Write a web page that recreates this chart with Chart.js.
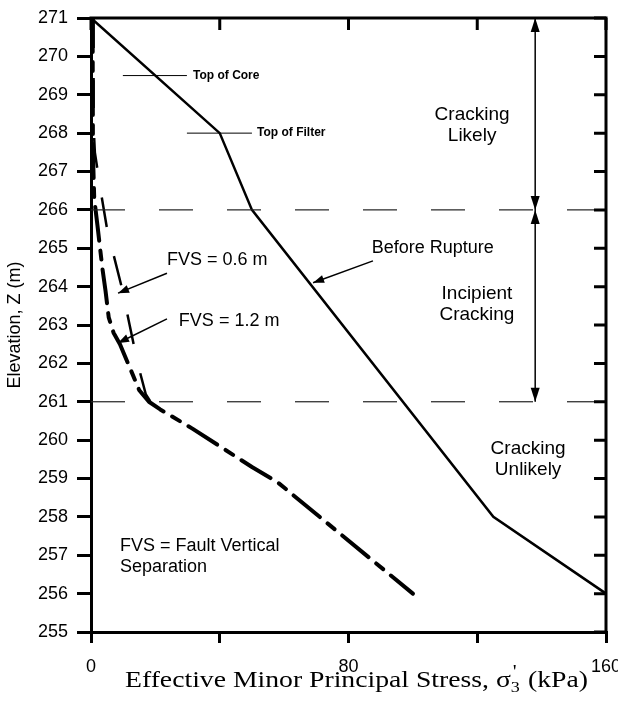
<!DOCTYPE html>
<html>
<head>
<meta charset="utf-8">
<script src="https://cdn.jsdelivr.net/npm/chart.js@4.4.0/dist/chart.umd.min.js"></script>
<style>
  html, body { margin: 0; padding: 0; background: #fff; }
  #wrap { width: 618px; height: 710px; position: relative; }
</style>
</head>
<body>
<div id="wrap"><canvas id="stressChart"></canvas></div>
<script>
// stress axis (kPa)
const stressTicks = [0, 40, 80, 120, 160];
const stressLabels = [0, 80, 160];
// elevation axis (m)
const elevationTicks = [255, 256, 257, 258, 259, 260, 261, 262, 263, 264, 265, 266, 267, 268, 269, 270, 271];

// before rupture
const beforeStress = [0, 40, 50, 125, 160];
const beforeElev = [271, 268, 266, 258, 256];

// FVS = 0.6 m
const fvs06Stress = [0.8, 0.8, 1.2, 3, 5, 9.5, 12, 14.5, 17, 18.5];
const fvs06Elev = [271, 268.2, 267.5, 266.5, 265.5, 264, 263, 262, 261.2, 261];

// FVS = 1.2 m
const fvs12Stress = [0.5, 0.6, 1, 2, 3.5, 4.5, 5.5, 7, 9, 12, 15, 18, 21.5, 31.5, 50, 58, 100];
const fvs12Elev = [271, 267.5, 266.3, 265.6, 264.5, 263.9, 263.2, 262.8, 262.5, 261.9, 261.3, 261.0, 260.8, 260.3, 259.3, 258.9, 256];

// cracking zone boundaries
const zoneBounds = [266, 261];
const zoneRange = [0, 160];

function toPoints(xs, ys) {
    return xs.map((v, i) => ({ x: v, y: ys[i] }));
}

const FONT = "'Liberation Sans', Arial, sans-serif";

// annotations, in data units
const labels = [
    { x: 31.7, y: 269.5, lines: ['Top of Core'], font: 'bold 12px ' + FONT, align: 'left' },
    { x: 51.6, y: 268, lines: ['Top of Filter'], font: 'bold 12px ' + FONT, align: 'left' },
    { x: 118.4, y: 268.2, lines: ['Cracking', 'Likely'], font: '19px ' + FONT, align: 'center' },
    { x: 106.2, y: 265.0, lines: ['Before Rupture'], font: '18px ' + FONT, align: 'center' },
    { x: 119.9, y: 263.55, lines: ['Incipient', 'Cracking'], font: '19px ' + FONT, align: 'center' },
    { x: 135.8, y: 259.5, lines: ['Cracking', 'Unlikely'], font: '19px ' + FONT, align: 'center' },
    { x: 23.6, y: 264.7, lines: ['FVS = 0.6 m'], font: '18px ' + FONT, align: 'left' },
    { x: 27.3, y: 263.1, lines: ['FVS = 1.2 m'], font: '18px ' + FONT, align: 'left' },
    { x: 9.0, y: 256.97, lines: ['FVS = Fault Vertical', 'Separation'], font: '18px ' + FONT, align: 'left' }
];
const leaders = [
    [9.9, 269.5, 29.8, 269.5],
    [29.8, 268, 50, 268]
];
const pointers = [
    [87.6, 264.67, 69, 264.1],
    [23.6, 264.35, 8.4, 263.83],
    [23.6, 263.16, 8.4, 262.53]
];
const zoneArrowX = 138;

function arrowHead(ctx, x1, y1, x2, y2, len, half) {
    const ang = Math.atan2(y2 - y1, x2 - x1);
    ctx.beginPath();
    ctx.moveTo(x2, y2);
    ctx.lineTo(x2 - len * Math.cos(ang) + half * Math.sin(ang), y2 - len * Math.sin(ang) - half * Math.cos(ang));
    ctx.lineTo(x2 - len * Math.cos(ang) - half * Math.sin(ang), y2 - len * Math.sin(ang) + half * Math.cos(ang));
    ctx.closePath();
    ctx.fill();
}

const overlay = {
    id: 'overlay',
    afterDraw(chart) {
        const { ctx, chartArea: a, scales: { x, y } } = chart;
        ctx.save();
        ctx.strokeStyle = '#000';
        ctx.fillStyle = '#000';

        // frame top and right, with inward ticks
        ctx.lineWidth = 3;
        ctx.beginPath();
        ctx.moveTo(a.left - 1.5, a.top);
        ctx.lineTo(a.right, a.top);
        ctx.lineTo(a.right, a.bottom + 1.5);
        ctx.stroke();
        ctx.beginPath();
        stressTicks.forEach(v => {
            const px = x.getPixelForValue(v);
            ctx.moveTo(px, a.top);
            ctx.lineTo(px, a.top + 12);
        });
        elevationTicks.forEach(v => {
            const py = y.getPixelForValue(v);
            ctx.moveTo(a.right, py);
            ctx.lineTo(a.right - 12, py);
        });
        ctx.stroke();

        // leader lines
        ctx.lineWidth = 1;
        ctx.beginPath();
        leaders.forEach(l => {
            ctx.moveTo(x.getPixelForValue(l[0]), y.getPixelForValue(l[1]));
            ctx.lineTo(x.getPixelForValue(l[2]), y.getPixelForValue(l[3]));
        });
        ctx.stroke();

        // pointer arrows
        ctx.lineWidth = 1.5;
        pointers.forEach(p => {
            const x1 = x.getPixelForValue(p[0]), y1 = y.getPixelForValue(p[1]);
            const x2 = x.getPixelForValue(p[2]), y2 = y.getPixelForValue(p[3]);
            ctx.beginPath();
            ctx.moveTo(x1, y1);
            ctx.lineTo(x2, y2);
            ctx.stroke();
            arrowHead(ctx, x1, y1, x2, y2, 11, 4);
        });

        // zone double arrows
        const zx = x.getPixelForValue(zoneArrowX);
        [[271, 266], [266, 261]].forEach(seg => {
            const ya = y.getPixelForValue(seg[0]), yb = y.getPixelForValue(seg[1]);
            ctx.beginPath();
            ctx.moveTo(zx, ya);
            ctx.lineTo(zx, yb);
            ctx.stroke();
            arrowHead(ctx, zx, yb, zx, ya, 14, 4.5);
            arrowHead(ctx, zx, ya, zx, yb, 14, 4.5);
        });

        // text
        ctx.textBaseline = 'middle';
        labels.forEach(t => {
            ctx.font = t.font;
            ctx.textAlign = t.align;
            const px = x.getPixelForValue(t.x), py = y.getPixelForValue(t.y);
            const lh = 21;
            const off = (t.lines.length - 1) * lh / 2;
            t.lines.forEach((s, i) => ctx.fillText(s, px, py - off + i * lh));
        });

        // x axis title with sigma_3', stretched a little like the original
        ctx.textAlign = 'left';
        ctx.textBaseline = 'alphabetic';
        const serif = "'Liberation Serif', 'Times New Roman', serif";
        const main = 'Effective Minor Principal Stress, \u03c3';
        const tail = ' (kPa)';
        ctx.font = '23px ' + serif;
        const wMain = ctx.measureText(main).width;
        const wTail = ctx.measureText(tail).width;
        ctx.font = '15px ' + serif;
        const wSub = ctx.measureText('3').width + 1;
        const total = wMain + wSub + wTail;
        const stretch = 463 / total;
        const cx = (a.left + a.right) / 2 + 8;
        ctx.translate(cx - total * stretch / 2, 687);
        ctx.scale(stretch, 1);
        let sx = 0;
        ctx.font = '23px ' + serif;
        ctx.fillText(main, sx, 0);
        sx += wMain;
        ctx.font = '15px ' + serif;
        ctx.fillText('3', sx, 5);
        ctx.font = '18px ' + serif;
        ctx.fillText("'", sx + 1.5, -9);
        sx += wSub;
        ctx.font = '23px ' + serif;
        ctx.fillText(tail, sx, 0);

        ctx.restore();
    }
};

const ctx = document.getElementById('stressChart').getContext('2d');
new Chart(ctx, {
    type: 'scatter',
    data: {
        datasets: [
            {
                data: toPoints(zoneRange, [zoneBounds[0], zoneBounds[0]]),
                borderColor: '#222', borderWidth: 1.2, borderDash: [34, 34]
            },
            {
                data: toPoints(zoneRange, [zoneBounds[1], zoneBounds[1]]),
                borderColor: '#222', borderWidth: 1.2, borderDash: [34, 34]
            },
            {
                label: 'Before Rupture',
                data: toPoints(beforeStress, beforeElev),
                borderColor: '#000', borderWidth: 2.5
            },
            {
                label: 'FVS = 0.6 m',
                data: toPoints(fvs06Stress, fvs06Elev),
                borderColor: '#000', borderWidth: 2.5, borderDash: [30, 30]
            },
            {
                label: 'FVS = 1.2 m',
                data: toPoints(fvs12Stress, fvs12Elev),
                borderColor: '#000', borderWidth: 4, borderDash: [34, 10, 9, 10],
                borderCapStyle: 'round', borderJoinStyle: 'round'
            }
        ].map(d => Object.assign({ showLine: true, pointRadius: 0, tension: 0, fill: false }, d))
    },
    options: {
        responsive: true,
        maintainAspectRatio: false,
        animation: false,
        layout: { padding: { top: 18, right: 12, left: 0, bottom: 0 } },
        plugins: {
            legend: { display: false },
            tooltip: { enabled: false }
        },
        scales: {
            x: {
                type: 'linear',
                min: 0,
                max: 160,
                afterBuildTicks: s => { s.ticks = stressTicks.map(v => ({ value: v })); },
                afterFit: s => { s.height = 78; s.paddingLeft = 0; s.paddingRight = 0; },
                ticks: {
                    color: '#000',
                    font: { family: FONT, size: 18 },
                    padding: 13,
                    maxRotation: 0,
                    autoSkip: false,
                    callback: v => stressLabels.includes(v) ? String(v) : ''
                },
                grid: { drawOnChartArea: false, drawTicks: true, tickLength: 11, lineWidth: 3, color: '#000' },
                border: { width: 3, color: '#000' }
            },
            y: {
                type: 'linear',
                min: 255,
                max: 271,
                afterBuildTicks: s => { s.ticks = elevationTicks.map(v => ({ value: v })); },
                afterFit: s => { s.width = 91; s.paddingTop = 0; s.paddingBottom = 0; },
                ticks: {
                    color: '#000',
                    font: { family: FONT, size: 18 },
                    padding: 9,
                    autoSkip: false
                },
                grid: { drawOnChartArea: false, drawTicks: true, tickLength: 14, lineWidth: 3, color: '#000' },
                border: { width: 3, color: '#000' },
                title: {
                    display: true,
                    text: 'Elevation, Z (m)',
                    color: '#000',
                    font: { family: FONT, size: 18 },
                    padding: { top: 4, bottom: 0 }
                }
            }
        }
    },
    plugins: [overlay]
});
</script>
</body>
</html>
